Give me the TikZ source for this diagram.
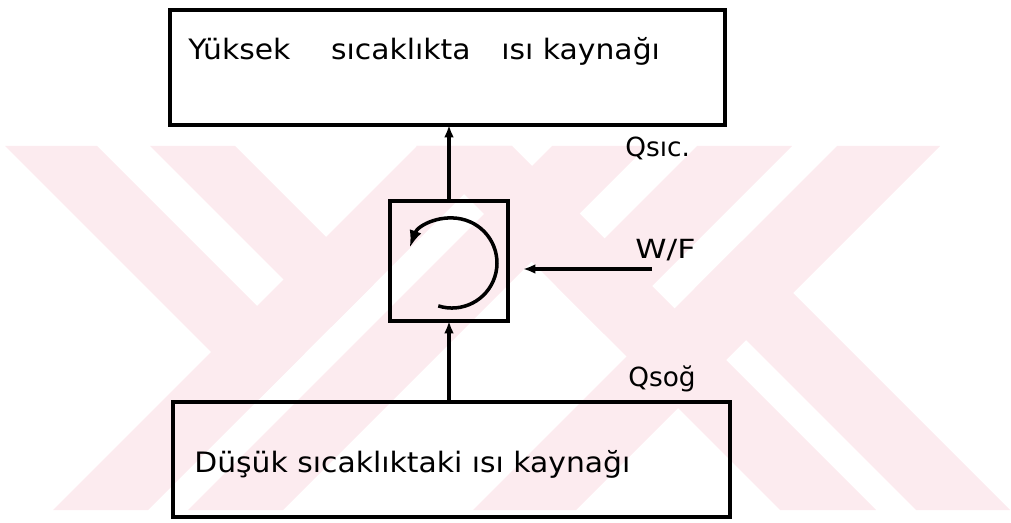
\documentclass[tikz,border=0pt]{standalone}
\usepackage{fontspec}
\setmainfont{DejaVu Sans}
\usetikzlibrary{arrows.meta}
\definecolor{wmpink}{RGB}{252,235,239}
\tikzset{
  bigbox/.style={draw=black, line width=2.3pt, minimum width=#1, minimum height=2.3cm, inner sep=0pt, outer sep=0pt},
  engine/.style={draw=black, line width=2.3pt, minimum width=2.36cm, minimum height=2.4cm, inner sep=0pt, outer sep=0pt},
  boxtext/.style={font=\fontsize{16}{18}\selectfont, inner sep=0pt, anchor=base west},
  lbl/.style={font=\fontsize{15}{17}\selectfont, inner sep=0pt, anchor=base west},
  flow/.style={line width=2pt, -{Latex[length=7pt,width=5.5pt]}},
  cyc/.style={line width=2pt, -{Latex[length=10pt,width=7pt]}},
  wm/.style={fill=wmpink, draw=none}
}
\begin{document}
\begin{tikzpicture}[x=0.02cm, y=-0.02cm]
\useasboundingbox (0,0) rectangle (1011,523);
% watermark bands
\path[wm] (417,146)--(512,146)--(148,510)--(53,510)--cycle;
\path[wm] (552,146)--(647,146)--(283,510)--(188,510)--cycle;
\path[wm] (416,146)--(512,146)--(876,510)--(780,510)--cycle;
\path[wm] (837,146)--(940,146)--(576,510)--(473,510)--cycle;
\path[wm] (741.5,241.5)--(1010,510)--(916,510)--(694.5,288.5)--cycle;
\path[wm] (5,146)--(97,146)--(304.5,353.5)--(258.5,399.5)--cycle;
\path[wm] (150,146)--(235,146)--(373.5,284.5)--(331,327)--cycle;
\path[wm] (697,146)--(792,146)--(604,334)--(556.5,286.5)--cycle;
% boxes
\node[bigbox=11.1cm] (hot) at (447.5,67.5) {};
\node[engine] (mid) at (449,261) {};
\node[bigbox=11.14cm] (cold) at (451.5,459.5) {};
% texts
\node[boxtext] (hottext) at (188,60) {\scalebox{1.06}[1]{Yüksek\hspace{21.9pt}sıcaklıkta\hspace{16.5pt}ısı kaynağı}};
\node[boxtext] (coldtext) at (194,473) {\scalebox{1.06}[1]{Düşük sıcaklıktaki ısı kaynağı}};
\node[lbl] (qsic) at (625,157) {Qsıc.};
\node[lbl] (qsog) at (628,387) {Qsoğ};
\node[lbl] (wf) at (635,259) {\scalebox{1.2}[1]{W/F}};
% connectors
\draw[flow] (mid.north) -- (mid.north |- hot.south);
\draw[flow] (mid.south |- cold.north) -- (mid.south);
\coordinate (wfs) at (652,269);
\draw[flow, shorten >=15*0.02cm] (wfs) -- (mid.east |- wfs);
% cycle symbol
\draw[cyc] ([shift={(-10.7,44.9)}]mid.center) arc[start angle=107.7, end angle=-160.4, radius=45];
\end{tikzpicture}
\end{document}
